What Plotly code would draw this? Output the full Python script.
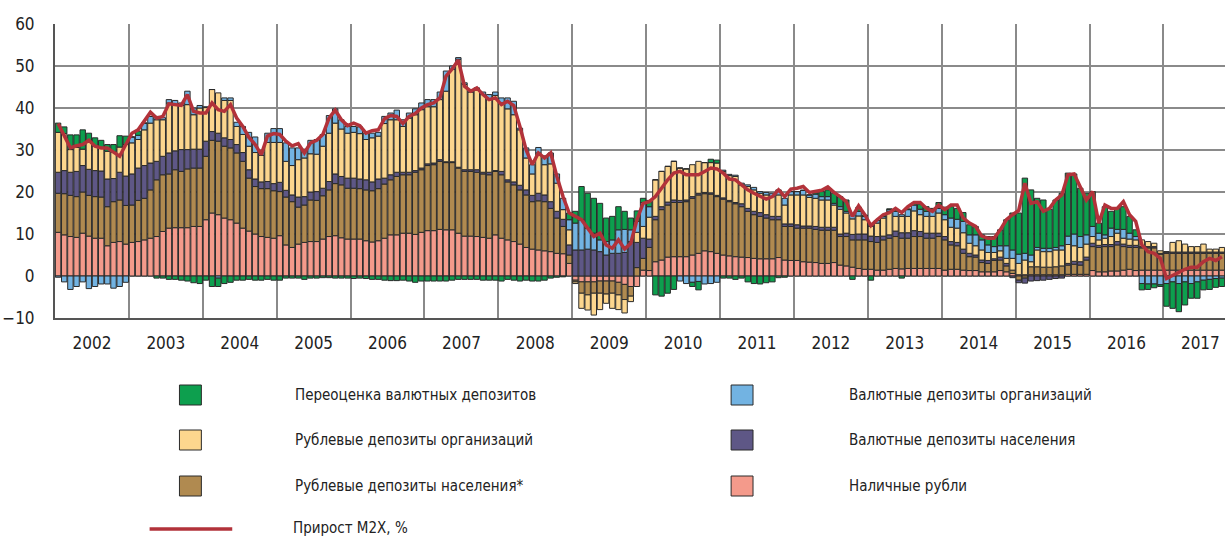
import plotly.graph_objects as go

years = [str(y) for y in range(2002, 2018)]

# monthly components, Jan 2002 .. Oct 2017 (percentage points)
cash = [
    10.4, 9.8, 9.4, 9.2, 10.2, 9.5, 9.0, 9.0, 7.2, 8.0, 8.2, 7.6,
    8.0, 8.2, 8.6, 9.0, 9.4, 10.6, 11.4, 11.5, 11.5, 11.5, 11.8, 11.8,
    13.4, 15.0, 14.6, 13.8, 13.4, 12.6, 11.4, 10.7, 10.0, 9.4, 9.2, 9.0,
    9.6, 7.4, 6.8, 7.6, 8.0, 8.2, 8.2, 8.8, 9.4, 9.6, 9.1, 8.8,
    8.8, 8.8, 8.4, 8.1, 8.4, 9.0, 9.8, 9.8, 10.2, 10.2, 9.9, 10.4,
    10.8, 10.8, 11.1, 11.0, 11.0, 10.2, 9.5, 9.5, 9.4, 9.2, 9.0, 9.8,
    9.0, 8.6, 8.2, 7.6, 6.8, 6.4, 6.2, 6.0, 5.8, 5.4, 5.3, 3.0,
    -1.0, -1.4, -1.4, -1.4, -1.2, -1.2, -1.2, -1.5, -2.0, -2.5, -2.5, 1.4,
    1.3, 3.4, 3.8, 4.5, 4.6, 4.6, 4.6, 5.0, 5.4, 6.0, 5.8, 5.4,
    5.0, 4.8, 4.6, 4.5, 4.4, 4.2, 4.1, 4.1, 4.1, 4.4, 3.8, 3.7,
    3.7, 3.4, 3.3, 3.2, 3.0, 3.0, 3.2, 2.6, 2.4, 2.1, 1.8, 1.6,
    1.6, 1.4, 1.4, 1.6, 1.8, 1.7, 1.8, 1.8, 1.8, 1.8, 1.8, 1.8,
    1.4, 1.6, 1.6, 1.4, 1.3, 1.3, 1.0, 1.0, 1.0, 1.3, 1.0, 0.6,
    0.3, 0.3, 0.3, 0.3, 0.3, 0.3, 0.3, 0.3, 0.4, 0.4, 0.4, 0.4,
    1.3, 1.0, 1.0, 1.2, 1.2, 1.4, 1.6, 1.3, 1.4, 1.4, 1.4, 1.4,
    1.4, 1.4, 1.4, 1.4, 1.4, 1.4, 1.4, 1.4, 1.4, 1.4,
]
rub_households = [
    9.3, 9.8, 9.8, 9.7, 9.8, 9.7, 9.9, 9.8, 9.3, 9.7, 9.9, 9.2,
    8.9, 9.8, 9.9, 11.5, 13.5, 13.5, 12.9, 13.8, 13.4, 14.0, 13.9, 13.9,
    15.1, 17.3, 17.5, 17.1, 17.1, 16.7, 15.9, 12.6, 11.3, 11.4, 11.6, 11.3,
    10.5, 11.4, 10.9, 8.8, 8.9, 9.9, 9.8, 10.3, 11.1, 12.4, 12.6, 12.1,
    12.1, 12.0, 12.1, 12.2, 12.4, 12.9, 13.1, 13.9, 13.9, 13.9, 14.8, 14.9,
    15.5, 15.7, 16.2, 16.0, 16.0, 15.5, 15.4, 15.4, 15.3, 15.1, 15.1, 15.1,
    15.1, 13.8, 13.5, 12.9, 12.5, 11.3, 11.7, 11.7, 10.3, 8.4, 6.5, 2.0,
    -0.4, -2.7, -3.1, -2.7, -2.9, -3.1, -2.9, -3.0, -3.6, -2.3, 2.0, 2.8,
    5.5, 10.0, 12.0, 12.4, 12.9, 12.9, 13.1, 13.5, 13.9, 13.6, 13.7, 13.5,
    13.3, 12.9, 12.6, 12.0, 11.0, 10.4, 10.1, 9.7, 9.3, 9.0, 8.0, 8.1,
    7.7, 8.0, 8.1, 7.9, 7.9, 7.9, 7.7, 6.8, 7.0, 6.5, 6.8, 7.0,
    6.6, 6.6, 7.2, 7.4, 7.6, 7.3, 7.2, 7.6, 7.6, 7.2, 7.2, 7.6,
    7.2, 5.8, 5.6, 4.0, 3.3, 3.2, 2.2, 2.0, 2.7, 2.5, 1.4, 0.8,
    -1.0, -0.5, 1.9, 1.9, 1.8, 1.8, 1.9, 2.1, 2.2, 2.4, 2.2, 3.4,
    5.7, 5.8, 6.0, 5.8, 6.2, 5.6, 5.2, 5.5, 5.3, 5.3, 5.3, 3.8,
    4.0, 4.0, 4.0, 4.0, 4.0, 4.0, 4.0, 4.0, 4.0, 4.0,
]
fx_households = [
    5.0, 5.5, 5.5, 6.0, 6.3, 6.2, 6.2, 6.2, 6.6, 5.5, 6.6, 7.0,
    7.4, 7.7, 7.8, 6.4, 4.4, 4.4, 5.0, 4.5, 5.2, 4.6, 4.5, 4.5,
    3.6, 2.1, 1.9, 2.0, 2.0, 2.0, 2.1, 2.0, 1.8, 1.6, 1.7, 1.7,
    2.2, 1.6, 1.6, 2.4, 2.0, 1.9, 2.1, 1.8, 2.0, 2.3, 2.0, 2.4,
    2.4, 2.3, 2.4, 2.1, 2.3, 1.4, 1.2, 1.0, 0.6, 0.6, 0.4, 0.4,
    0.4, 0.4, 0.4, 0.2, 0.2, 0.2, 0.4, 0.4, 0.6, 0.4, 0.6, 0.2,
    0.8, 0.5, 0.7, 1.1, 1.2, 1.5, 1.8, 1.6, 1.6, 1.6, 1.7, 2.4,
    6.2, 6.2, 6.4, 6.2, 5.8, 5.0, 5.4, 5.4, 5.6, 8.2, 6.0, 4.8,
    2.0, 0.8, 0.7, 0.7, 0.6, 0.5, 0.4, 0.4, 0.4, 0.3, 0.3, 0.3,
    0.3, 0.3, 0.3, 0.7, 0.7, 0.8, 0.9, 0.8, 0.8, 0.8, 0.6, 0.6,
    0.8, 0.5, 0.5, 0.7, 0.7, 0.7, 0.7, 0.6, 0.8, 1.3, 1.4, 1.4,
    1.3, 1.4, 0.9, 0.8, 1.3, 1.3, 1.3, 1.4, 1.2, 1.2, 1.2, 0.8,
    0.8, 0.8, 0.8, 1.0, 0.8, 0.5, 0.6, 0.7, 0.4, 0.7, 0.6, -0.4,
    -0.6, -1.2, -1.2, -1.1, -1.0, -0.8, -0.6, -0.5, 0.4, 0.7, 0.8, 0.7,
    0.8, 0.5, 0.5, 0.5, 0.8, 0.6, 0.5, 0.5, 0.3, 0.3, 0.3, 0.2,
    0.3, 0.3, 0.3, 0.3, 0.3, 0.3, 0.3, 0.3, 0.3, 0.3,
]
rub_orgs = [
    9.5, 8.8, 5.4, 5.7, 3.9, 6.5, 5.9, 5.6, 6.6, 6.3, 6.0, 7.5,
    7.4, 6.8, 8.5, 9.5, 9.9, 8.7, 11.9, 11.0, 10.5, 10.7, 8.2, 9.8,
    8.0, 10.0, 9.6, 8.9, 9.3, 4.3, 4.3, 5.6, 6.3, 6.3, 9.3, 9.8,
    9.5, 6.9, 7.0, 8.9, 9.2, 9.1, 8.9, 10.0, 11.5, 12.1, 11.3, 10.7,
    10.9, 10.8, 9.6, 10.5, 10.2, 13.0, 13.1, 12.5, 10.9, 12.9, 13.3, 13.9,
    13.6, 13.4, 14.3, 16.8, 22.0, 25.7, 20.3, 18.5, 19.1, 18.5, 17.3, 17.9,
    16.3, 16.9, 16.0, 13.2, 7.6, 5.1, 9.6, 7.2, 9.0, 6.7, 2.3, 3.6,
    -0.4, -3.6, -3.6, -5.2, -3.9, -2.2, -3.6, -3.5, -3.2, -1.3, 2.4, 2.8,
    5.2, 8.7, 8.4, 8.5, 9.2, 7.7, 7.4, 7.6, 7.6, 7.1, 7.2, 7.7,
    6.3, 5.9, 6.2, 4.5, 5.2, 5.1, 4.6, 4.7, 4.7, 5.1, 4.5, 6.9,
    7.1, 7.4, 6.8, 6.7, 6.5, 6.5, 5.3, 5.9, 4.8, 3.7, 4.3, 3.4,
    2.3, 3.2, 4.3, 5.6, 3.5, 3.9, 3.9, 4.7, 4.0, 4.0, 4.0, 4.8,
    4.0, 3.4, 3.4, 3.9, 2.4, 2.2, 2.4, 1.9, 1.5, 1.5, 1.2, 2.8,
    2.7, 3.5, 1.2, 4.0, 3.7, 3.7, 4.0, 3.8, 4.5, 3.7, 3.4, 3.1,
    1.6, 1.3, 1.5, 1.9, 2.0, 1.4, 1.5, 1.3, 1.6, 1.2, 0.8, 0.6,
    0.1, 2.3, 2.7, 1.9, 1.3, 1.3, 1.9, 0.7, 0.7, 1.1,
]
fx_orgs = [
    -0.3, -1.4, -3.2, -2.5, -1.4, -3.0, -2.5, -1.9, -1.9, -2.9, -2.5, -1.5,
    1.4, 1.0, 1.6, 1.6, 0.8, 0.5, 0.8, 1.0, 0.6, 3.2, 1.6, 0.6,
    0.2, 0.0, -0.5, 0.6, 0.6, 1.0, 1.9, 3.3, 3.7, 0.9, 2.2, 3.3,
    3.3, 4.4, 4.2, 2.8, 2.1, 3.2, 3.5, 2.8, 4.2, 3.4, 2.2, 1.6,
    1.4, 1.6, 1.5, 1.1, 0.9, 1.7, 1.6, 2.3, 1.6, 1.2, 1.4, 1.6,
    1.7, 1.7, 1.8, 4.8, 0.8, 0.4, 0.4, 0.6, 0.4, 0.6, 1.2, 0.8,
    1.2, 2.6, 3.2, 0.4, 2.4, 2.2, 1.3, 2.1, 2.6, 2.2, 2.7, 2.4,
    6.4, 7.2, 5.0, 4.0, 2.8, 3.2, 3.2, 5.6, 5.5, 2.8, 2.6, 5.7,
    2.5, 0.0, 0.0, 0.0, 0.0, -1.2, -1.8, -1.5, -1.3, -1.9, -1.8, -1.5,
    0.3, 0.3, 0.3, 0.4, 0.4, 0.6, 0.4, 0.6, 0.8, 1.2, 1.6, 0.8,
    0.8, 1.1, 0.6, 1.0, 0.8, 0.8, 0.4, 0.6, 0.4, 1.0, 1.1, 0.8,
    0.4, 0.6, 0.4, 0.4, 1.2, 0.4, 1.6, 1.4, 1.3, 1.2, 1.6, 1.1,
    1.2, 2.2, 2.1, 2.7, 2.0, 2.6, 2.4, 1.8, 1.4, 1.2, 3.0, 2.0,
    2.2, 1.6, 1.6, 0.6, 0.8, 0.8, 0.6, 1.0, 2.0, 2.8, 2.6, 2.2,
    2.4, 1.6, 0.8, 2.0, 0.9, 2.1, 1.4, 0.8, -1.8, -1.9, -1.9, -2.1,
    -1.8, -1.4, -1.8, -1.4, -1.8, -1.4, -1.0, -0.8, -0.6, -0.5,
]
revaluation = [
    2.2, 1.6, 3.5, 3.0, 4.6, 2.1, 1.9, 1.7, 1.6, 1.8, 2.7, 2.0,
    0.0, 1.0, 0.0, 0.0, -0.5, -0.5, -0.8, -0.8, -1.0, -1.2, -1.6, -1.8,
    -1.0, -2.5, -2.0, -1.8, -1.5, -1.0, -1.0, -0.8, -1.0, -1.0, -0.8, -1.0,
    -1.0, -0.5, -0.5, -0.5, -0.8, -0.5, -0.5, -0.4, -0.4, -0.5, -0.5, -0.5,
    -0.6, -0.5, -0.6, -0.8, -0.8, -1.0, -1.1, -1.1, -1.0, -1.2, -1.5, -1.2,
    -1.2, -1.2, -1.2, -1.2, -1.0, -0.8, -0.8, -0.8, -0.8, -1.0, -1.0, -1.0,
    -1.2, -0.8, -1.0, -1.2, -1.0, -1.2, -1.2, -1.0, -0.5, -0.3, -0.2, 1.6,
    2.8, 7.9, 8.3, 8.3, 8.7, 5.6, 5.6, 5.5, 4.3, 2.8, 2.5, 1.0,
    1.5, -4.5, -4.8, -4.1, -3.2, 0.0, 0.0, -1.0, -2.0, 0.0, 0.8, 0.7,
    -0.5, -0.5, -0.8, -0.5, -1.4, -1.8, -1.9, -1.6, -1.4, -0.4, -0.3, 0.0,
    0.0, 0.0, 0.0, 0.3, 1.2, 1.6, 2.4, 2.4, 2.7, -0.8, 1.0, 0.3,
    -1.0, 0.0, 0.2, 0.2, 0.3, -0.5, 0.2, 0.4, 1.2, 1.1, 0.3, 1.4,
    1.8, 2.7, 2.6, 2.1, 2.4, 2.0, 1.2, 2.0, 2.4, 3.8, 6.2, 8.8,
    9.8, 17.9, 15.5, 11.7, 11.5, 9.3, 11.3, 12.5, 15.0, 14.3, 11.5, 9.9,
    8.3, 2.4, 6.7, 4.0, 5.0, 5.4, 4.0, 1.6, -1.5, -1.3, -0.9, -0.4,
    -5.4, -6.3, -6.7, -5.5, -3.5, -3.9, -2.3, -2.4, -2.1, -2.0,
]
m2x_growth = [
    36.3, 33.6, 30.5, 31.0, 31.3, 32.3, 30.9, 30.5, 30.5, 29.5, 28.5, 31.3,
    34.0, 34.8, 37.0, 39.0, 37.6, 38.0, 41.0, 40.8, 40.6, 43.2, 39.2, 38.8,
    38.8, 41.2, 39.6, 39.2, 40.8, 37.6, 35.6, 33.0, 31.3, 28.9, 33.3, 33.9,
    33.7, 32.1, 31.0, 31.5, 29.3, 31.7, 32.3, 33.7, 37.6, 39.5, 37.2, 35.8,
    36.4, 35.8, 34.0, 34.6, 34.8, 37.4, 38.2, 38.0, 36.3, 38.0, 38.7, 40.0,
    40.8, 41.2, 42.4, 47.6, 49.3, 51.4, 45.2, 44.0, 44.8, 43.2, 42.0, 42.4,
    40.8, 41.6, 40.6, 35.6, 30.1, 26.5, 29.3, 28.1, 29.3, 23.7, 18.9, 15.0,
    14.2, 13.4, 11.4, 9.4, 10.2, 7.4, 6.6, 8.6, 6.4, 7.8, 13.4, 17.3,
    17.7, 18.9, 20.9, 22.9, 24.5, 24.9, 24.1, 24.1, 24.1, 24.9, 25.7, 25.5,
    24.5, 23.1, 22.9, 21.7, 20.5, 19.7, 18.9, 18.3, 18.9, 20.5, 18.9, 20.7,
    20.9, 21.3, 19.9, 20.1, 20.4, 21.2, 19.9, 18.9, 17.7, 14.2, 16.7, 14.6,
    12.0, 13.4, 14.6, 15.1, 16.1, 15.1, 16.5, 17.5, 17.5, 16.1, 15.4, 16.9,
    15.8, 16.9, 16.9, 13.8, 12.6, 11.8, 9.5, 9.0, 9.0, 11.0, 13.4, 14.6,
    15.6, 22.1, 17.3, 17.7, 15.4, 16.1, 18.1, 19.3, 24.1, 24.3, 21.3, 18.1,
    20.1, 12.6, 16.9, 16.1, 16.1, 17.7, 14.6, 13.0, 7.4, 5.8, 5.4, 4.2,
    -0.6, 0.2, 1.0, 1.6, 2.1, 2.1, 3.4, 4.2, 3.7, 4.6,
]

labels = [
    "Наличные рубли",
    "Рублевые депозиты населения*",
    "Валютные депозиты населения",
    "Рублевые депозиты организаций",
    "Валютные депозиты организаций",
    "Переоценка валютных депозитов",
]
line_label = "Прирост M2X, %"
colors = ["#f49a8b", "#b08a50", "#5e5786", "#fcd68e", "#72b3e2", "#0d9f4e"]
series = [cash, rub_households, fx_households, rub_orgs, fx_orgs, revaluation]

n = len(m2x_growth)
x = list(range(n))
FONT = "DejaVu Sans Condensed, Liberation Sans Narrow, sans-serif"

fig = go.Figure()
for name, vals, col in zip(labels, series, colors):
    fig.add_trace(go.Bar(
        x=x, y=vals, name=name, showlegend=False,
        marker=dict(color=col, line=dict(color="#2a2a2a", width=1)),
    ))
fig.add_trace(go.Scatter(
    x=x, y=m2x_growth, mode="lines", name=line_label, showlegend=False,
    line=dict(color="#b2323a", width=3.5),
))

year_centers = [5.5 + 12 * k for k in range(len(years))]

fig.update_layout(
    width=1227, height=539, autosize=False,
    margin=dict(l=50, r=2, t=24, b=221),
    paper_bgcolor="white", plot_bgcolor="white",
    barmode="relative", bargap=0.12,
    font=dict(family=FONT, size=17, color="#222222"),
    xaxis=dict(
        range=[-0.5, n - 0.5],
        tickmode="array", tickvals=year_centers, ticktext=years,
        showgrid=False, ticks="", ticklabelstandoff=9,
        minor=dict(tickmode="linear", tick0=-0.5, dtick=12, showgrid=True,
                   gridcolor="#8a8a8a", gridwidth=1.5),
        showline=True, linecolor="#555555", linewidth=2,
        zeroline=False,
    ),
    yaxis=dict(
        range=[-10, 60], dtick=10, tick0=0,
        showgrid=True, gridcolor="#8a8a8a", gridwidth=1.5,
        zeroline=False, ticks="", ticklabelstandoff=15,
        showline=True, linecolor="#555555", linewidth=2,
    ),
)

# manual legend below the plot
plot_w, plot_h = 1175.0, 294.0
def px_x(p):
    return (p - 50) / plot_w
def px_y(p):
    return (318 - p) / plot_h

legend_items = [
    (5, 186, 395, 289), (4, 740, 395, 845),
    (3, 186, 440, 289), (2, 740, 440, 845),
    (1, 186, 486, 289), (0, 740, 486, 845),
]
shapes = []
annotations = []
for idx, cx, cy, tx in legend_items:
    shapes.append(dict(
        type="rect", xref="paper", yref="paper",
        x0=px_x(cx - 11), x1=px_x(cx + 11), y0=px_y(cy + 10), y1=px_y(cy - 10),
        fillcolor=colors[idx], line=dict(color="#2a2a2a", width=1),
    ))
    annotations.append(dict(
        xref="paper", yref="paper", x=px_x(tx), y=px_y(cy),
        text=labels[idx], showarrow=False, xanchor="left", yanchor="middle",
        font=dict(family=FONT, size=15, color="#222222"),
    ))
shapes.append(dict(
    type="line", xref="paper", yref="paper",
    x0=px_x(145), x1=px_x(228), y0=px_y(529), y1=px_y(529),
    line=dict(color="#b2323a", width=3.5),
))
annotations.append(dict(
    xref="paper", yref="paper", x=px_x(287), y=px_y(528),
    text=line_label, showarrow=False, xanchor="left", yanchor="middle",
    font=dict(family=FONT, size=15, color="#222222"),
))
fig.update_layout(shapes=shapes, annotations=annotations)

fig.write_html(
    "out.html",
    config={"displayModeBar": False},
    post_script="document.body.style.margin='0';document.body.style.overflow='hidden';",
)
